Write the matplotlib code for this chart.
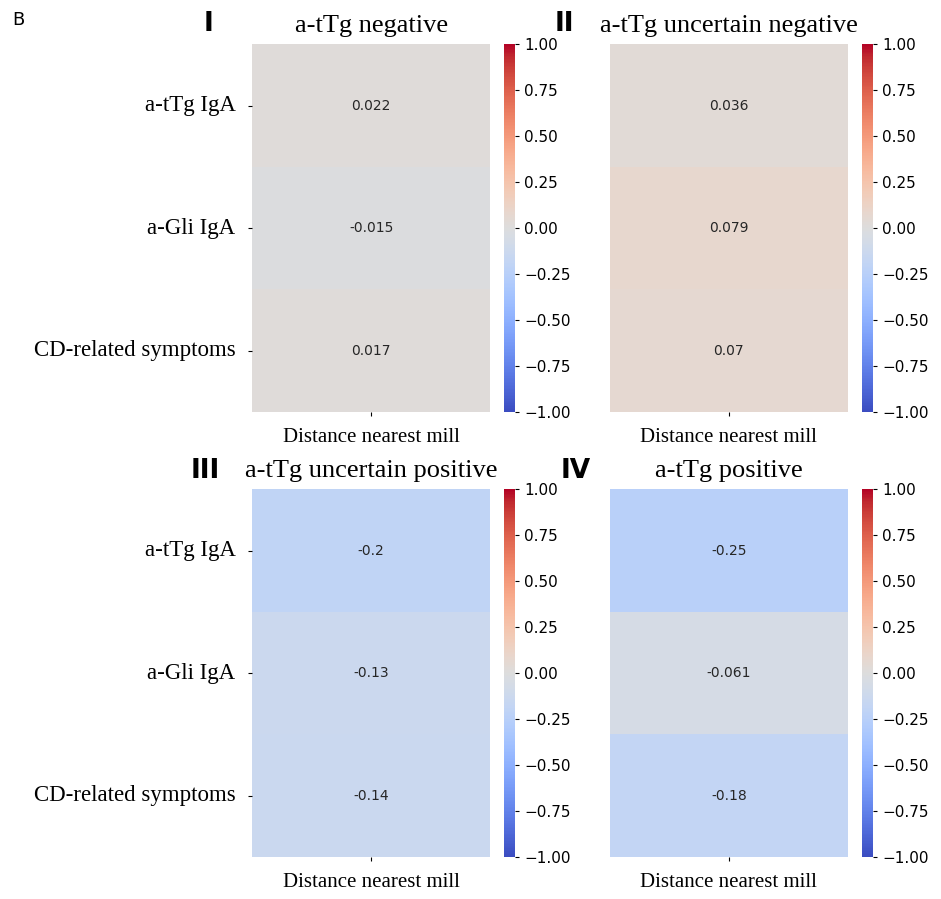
import numpy as np
import matplotlib
matplotlib.use("Agg")
import matplotlib.pyplot as plt
import seaborn as sns

rows = ["a-tTg IgA", "a-Gli IgA", "CD-related symptoms"]
col = ["Distance nearest mill"]

titles = ["a-tTg negative", "a-tTg uncertain negative",
          "a-tTg uncertain positive", "a-tTg positive"]
numerals = ["I", "II", "III", "IV"]

vals_I = [0.022, -0.015, 0.017]
vals_II = [0.036, 0.079, 0.07]
vals_III = [-0.2, -0.13, -0.14]
vals_IV = [-0.25, -0.061, -0.18]
all_vals = [vals_I, vals_II, vals_III, vals_IV]

cbar_ticks = [-1.0, -0.75, -0.5, -0.25, 0.0, 0.25, 0.5, 0.75, 1.0]

fig = plt.figure(figsize=(9.41, 8.99), dpi=100)

# heatmap / colorbar boxes in figure coords
lefts = [0.268, 0.648, 0.268, 0.648]
bottoms = [0.5417, 0.5417, 0.0467, 0.0467]
w = 0.253
h = 0.409
cb_off = 0.268
cb_w = 0.0117
num_x = [0.222, 0.600, 0.218, 0.612]
num_y = [0.973, 0.973, 0.476, 0.476]

serif = "Liberation Serif"

for i in range(4):
    ax = fig.add_axes([lefts[i], bottoms[i], w, h])
    cax = fig.add_axes([lefts[i] + cb_off, bottoms[i], cb_w, h])
    data = np.array(all_vals[i]).reshape(-1, 1)
    sns.heatmap(data, ax=ax, cbar_ax=cax, cmap="coolwarm", vmin=-1, vmax=1,
                annot=True, fmt=".2g", annot_kws={"fontsize": 10},
                xticklabels=[""], yticklabels=rows)
    if i % 2 == 0:
        ax.set_yticklabels(rows, rotation=0, fontsize=16.5, family=serif)
        ax.tick_params(axis="y", pad=9, length=3)
    else:
        ax.set_yticks([])
    ax.tick_params(axis="x", length=3)
    ax.set_xlabel(col[0], fontsize=15, family=serif, labelpad=5)
    ax.set_title(titles[i], fontsize=19, family=serif, pad=9)
    cax.set_yticks(cbar_ticks)
    cax.set_yticklabels(["%.2f" % t if t >= 0 else "\u2212%.2f" % -t for t in cbar_ticks])
    cax.tick_params(labelsize=11, length=3)
    fig.text(num_x[i], num_y[i], numerals[i], fontsize=19, fontweight="bold",
             ha="center", va="center")

fig.text(0.013, 0.978, "B", fontsize=13, ha="left", va="center")

plt.savefig("out.png", dpi=100)
